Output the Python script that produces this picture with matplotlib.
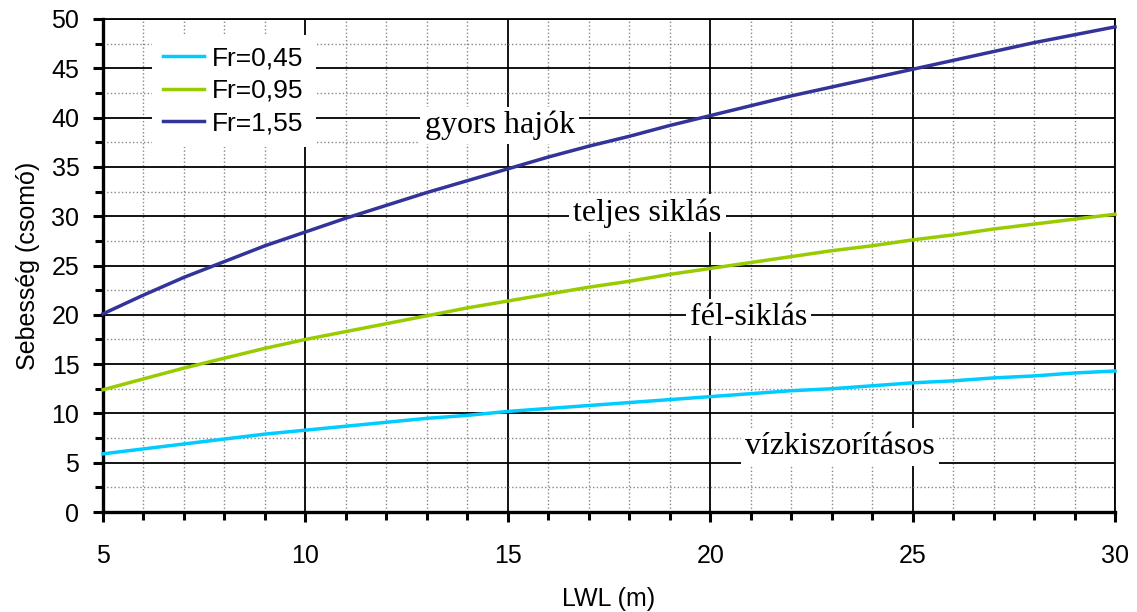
import matplotlib
matplotlib.use("Agg")
import matplotlib.pyplot as plt
from matplotlib.ticker import MultipleLocator

lwl = list(range(5, 31))
fr045 = [5.9, 6.4, 6.9, 7.4, 7.9, 8.3, 8.7, 9.1, 9.5, 9.8, 10.2, 10.5, 10.8, 11.1, 11.4,
         11.7, 12.0, 12.3, 12.5, 12.8, 13.1, 13.3, 13.6, 13.8, 14.1, 14.3]
fr095 = [12.4, 13.5, 14.6, 15.6, 16.6, 17.5, 18.3, 19.1, 19.9, 20.7, 21.4, 22.1, 22.8, 23.4,
         24.1, 24.7, 25.3, 25.9, 26.5, 27.0, 27.6, 28.1, 28.7, 29.2, 29.7, 30.2]
fr155 = [20.1, 22.0, 23.8, 25.4, 27.0, 28.4, 29.8, 31.1, 32.4, 33.6, 34.8, 36.0, 37.1, 38.1,
         39.2, 40.2, 41.2, 42.2, 43.1, 44.0, 44.9, 45.8, 46.7, 47.6, 48.4, 49.2]
series_labels = ["Fr=0,45", "Fr=0,95", "Fr=1,55"]
region_labels = ["gyors hajók", "teljes siklás", "fél-siklás", "vízkiszorításos"]
region_pos = [(14.8, 39.2), (18.45, 30.3), (20.95, 19.7), (23.2, 6.6)]

plt.rcParams['font.family'] = ['Liberation Sans', 'DejaVu Sans']
fig = plt.figure(figsize=(11.37, 6.12), dpi=100)
ax = fig.add_axes([103/1137, 100/612, (1115-103)/1137, (512-19)/612])

ax.set_xlim(5, 30)
ax.set_ylim(0, 50)
ax.xaxis.set_major_locator(MultipleLocator(5))
ax.xaxis.set_minor_locator(MultipleLocator(1))
ax.yaxis.set_major_locator(MultipleLocator(5))
ax.yaxis.set_minor_locator(MultipleLocator(2.5))
ax.grid(which='minor', color='#888888', linestyle=':', linewidth=1.0)
ax.grid(which='major', color='black', linestyle='-', linewidth=1.3)
ax.set_axisbelow(True)

colors = ['#00CCFF', '#99CC00', '#333399']
for ys, c, lab in zip([fr045, fr095, fr155], colors, series_labels):
    ax.plot(lwl, ys, color=c, linewidth=2.5, label=lab, zorder=3, clip_on=False)

for txt, (x, y) in zip(region_labels, region_pos):
    ax.text(x, y, txt, family='Liberation Serif', fontsize=23, ha='center', va='center',
            zorder=4, bbox=dict(facecolor='white', edgecolor='none', pad=3))

for s in ['left', 'bottom']:
    ax.spines[s].set_linewidth(2.4)
for s in ['top', 'right']:
    ax.spines[s].set_linewidth(1.3)

ax.tick_params(which='major', direction='out', length=7, width=2.2, labelsize=18, pad=10)
ax.tick_params(which='minor', direction='out', length=6, width=2.2)
ax.tick_params(axis='x', pad=16)
ax.set_xlabel('LWL (m)', fontsize=18, labelpad=14)
ax.set_ylabel('Sebesség (csomó)', fontsize=18, labelpad=8)

leg = ax.legend(loc='upper left', bbox_to_anchor=(0.035, 0.995), fontsize=19, frameon=True,
                fancybox=False, edgecolor='none', framealpha=1, handlelength=1.55,
                labelspacing=0.32, borderpad=0.45, handletextpad=0.3)
leg.set_zorder(5)

fig.savefig('out.png', dpi=100)
